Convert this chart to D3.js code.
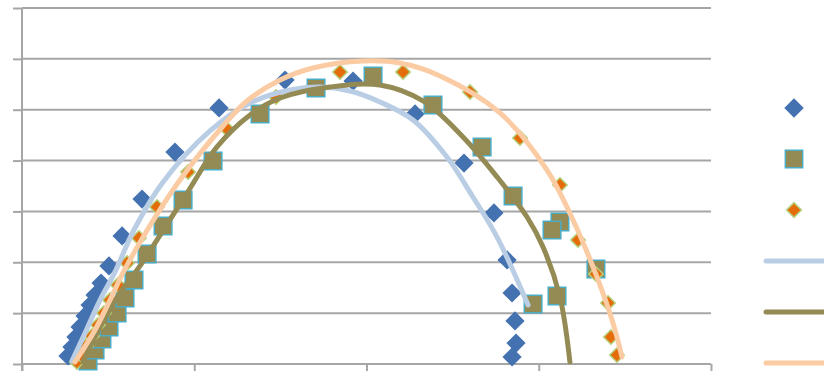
<!DOCTYPE html>
<html>
<head>
<meta charset="utf-8">
<script src="https://cdn.jsdelivr.net/npm/d3@7"></script>
<style>
  body { margin: 0; background: #fff; overflow: hidden; }
  svg { display: block; }
</style>
</head>
<body>
<svg id="chart"></svg>
<script>
// observed points, one array per series
const blueX = [2.67, 2.90, 3.13, 3.37, 3.66, 3.95, 4.24, 4.59, 5.05, 5.81, 6.97, 8.88, 11.44, 15.27, 19.22, 22.82, 25.66, 27.40, 28.16, 28.45, 28.62, 28.68, 28.45];
const blueY = [0.79, 1.67, 2.65, 3.64, 4.72, 5.80, 6.78, 7.96, 9.64, 12.59, 16.22, 20.84, 25.17, 27.92, 27.82, 24.58, 19.76, 14.85, 10.23, 6.98, 4.23, 2.06, 0.69];

const oliveX = [3.83, 4.24, 4.64, 5.05, 5.52, 5.98, 6.50, 7.26, 8.19, 9.35, 11.09, 13.82, 17.07, 20.38, 23.86, 26.71, 28.51, 31.23, 30.77, 33.32, 31.06, 29.67];
const oliveY = [0.29, 1.38, 2.46, 3.64, 5.01, 6.49, 8.26, 10.82, 13.57, 16.12, 19.96, 24.58, 27.14, 28.32, 25.46, 21.34, 16.52, 13.96, 13.17, 9.34, 6.69, 5.90];

const orangeX = [3.19, 3.43, 3.72, 4.06, 4.41, 4.76, 5.11, 5.57, 6.10, 6.79, 7.84, 9.64, 11.84, 14.75, 18.46, 22.12, 26.01, 28.91, 31.23, 32.28, 33.32, 34.02, 34.19, 34.54];
const orangeY = [0.20, 0.88, 1.77, 2.75, 3.83, 5.01, 6.29, 7.77, 9.93, 12.39, 15.44, 18.88, 23.20, 26.25, 28.71, 28.71, 26.74, 22.22, 17.60, 12.19, 8.85, 6.00, 2.65, 0.88];

// trend lines
const blueTrendX = [2.90, 3.66, 4.53, 5.40, 6.44, 8.19, 10.91, 13.24, 15.56, 17.30, 19.04, 20.78, 22.70, 24.67, 26.18, 27.58, 29.38];
const blueTrendY = [0.29, 3.05, 6.29, 9.05, 12.98, 17.89, 22.91, 25.66, 26.94, 27.23, 26.84, 25.76, 23.99, 20.35, 16.42, 12.48, 5.80];

const oliveTrendX = [3.54, 4.53, 5.69, 6.85, 9.58, 11.32, 13.24, 14.98, 17.88, 20.78, 23.28, 25.60, 27.58, 29.32, 30.25, 31.23, 31.81];
const oliveTrendY = [0.20, 3.64, 6.98, 9.64, 16.81, 21.34, 24.48, 26.15, 27.23, 27.43, 25.86, 22.32, 18.39, 14.45, 11.50, 6.59, 0.20];

const orangeTrendX = [3.08, 4.24, 5.11, 5.86, 7.03, 9.17, 11.67, 13.06, 14.98, 16.89, 19.80, 21.94, 24.27, 27.75, 30.48, 31.99, 33.38, 34.31, 34.83];
const orangeTrendY = [0.20, 3.34, 6.29, 8.95, 12.49, 18.09, 23.40, 25.86, 27.92, 29.10, 29.79, 29.59, 28.32, 24.68, 19.07, 14.16, 8.55, 4.03, 0.69];

const xTicks = [0, 10, 20, 30, 40];
const yTicks = [0, 5, 10, 15, 20, 25, 30, 35];

const width = 824, height = 381;
const margin = { top: 8, right: 113, bottom: 17, left: 22 };

const svg = d3.select("#chart").attr("width", width).attr("height", height);

const x = d3.scaleLinear().domain([0, 40]).range([margin.left, width - margin.right]);
const y = d3.scaleLinear().domain([0, 35]).range([height - margin.bottom, margin.top]);

const gridColor = "#a6a6a6";

// horizontal gridlines + left ticks
svg.append("g")
  .attr("transform", `translate(${margin.left},0)`)
  .call(d3.axisLeft(y).tickValues(yTicks).tickSize(9).tickFormat(""))
  .call(g => g.select(".domain").remove())
  .call(g => g.selectAll(".tick line").attr("stroke", gridColor).attr("stroke-width", 2));

svg.append("g")
  .selectAll("line")
  .data(yTicks)
  .join("line")
  .attr("x1", margin.left)
  .attr("x2", width - margin.right)
  .attr("y1", d => y(d))
  .attr("y2", d => y(d))
  .attr("stroke", gridColor)
  .attr("stroke-width", 2);

// vertical axis line
svg.append("line")
  .attr("x1", margin.left).attr("x2", margin.left)
  .attr("y1", y(35)).attr("y2", y(0) + 7)
  .attr("stroke", gridColor).attr("stroke-width", 2);

// bottom ticks
svg.append("g")
  .attr("transform", `translate(0,${y(0)})`)
  .call(d3.axisBottom(x).tickValues(xTicks).tickSize(7).tickFormat(""))
  .call(g => g.select(".domain").remove())
  .call(g => g.selectAll(".tick line").attr("stroke", gridColor).attr("stroke-width", 2));

const zip = (xs, ys) => xs.map((v, i) => [v, ys[i]]);

const series = [
  { pts: zip(blueX, blueY), fill: "#4472b0", stroke: "#4472b0", sw: 0, size: 185, rot: 45 },
  { pts: zip(oliveX, oliveY), fill: "#948a54", stroke: "#4bacc6", sw: 1.5, size: 310, rot: 0 },
  { pts: zip(orangeX, orangeY), fill: "#e46c0a", stroke: "#b5cf7a", sw: 1.5, size: 105, rot: 45 }
];

const sym = d3.symbol().type(d3.symbolSquare);

series.forEach(s => {
  svg.append("g")
    .selectAll("path")
    .data(s.pts)
    .join("path")
    .attr("d", sym.size(s.size)())
    .attr("transform", d => `translate(${x(d[0])},${y(d[1])}) rotate(${s.rot})`)
    .attr("fill", s.fill)
    .attr("stroke", s.stroke)
    .attr("stroke-width", s.sw);
});

const trends = [
  { pts: zip(blueTrendX, blueTrendY), color: "#b9cde5" },
  { pts: zip(oliveTrendX, oliveTrendY), color: "#948a54" },
  { pts: zip(orangeTrendX, orangeTrendY), color: "#fbcca3" }
];

const line = d3.line()
  .x(d => x(d[0]))
  .y(d => y(d[1]))
  .curve(d3.curveCatmullRom.alpha(0.5));

trends.forEach(t => {
  svg.append("path")
    .datum(t.pts)
    .attr("d", line)
    .attr("fill", "none")
    .attr("stroke", t.color)
    .attr("stroke-width", 5)
    .attr("stroke-linecap", "round");
});

// legend (labels fall outside the visible area)
const legX = 794;
const legend = svg.append("g");
series.forEach((s, i) => {
  legend.append("path")
    .attr("d", sym.size(i === 1 ? 300 : (i === 0 ? 190 : 110))())
    .attr("transform", `translate(${legX},${108 + i * 51}) rotate(${s.rot})`)
    .attr("fill", s.fill)
    .attr("stroke", s.stroke)
    .attr("stroke-width", s.sw);
});
trends.forEach((t, i) => {
  legend.append("line")
    .attr("x1", 766).attr("x2", 830)
    .attr("y1", 261 + i * 51).attr("y2", 261 + i * 51)
    .attr("stroke", t.color)
    .attr("stroke-width", 5)
    .attr("stroke-linecap", "round");
});
</script>
</body>
</html>
